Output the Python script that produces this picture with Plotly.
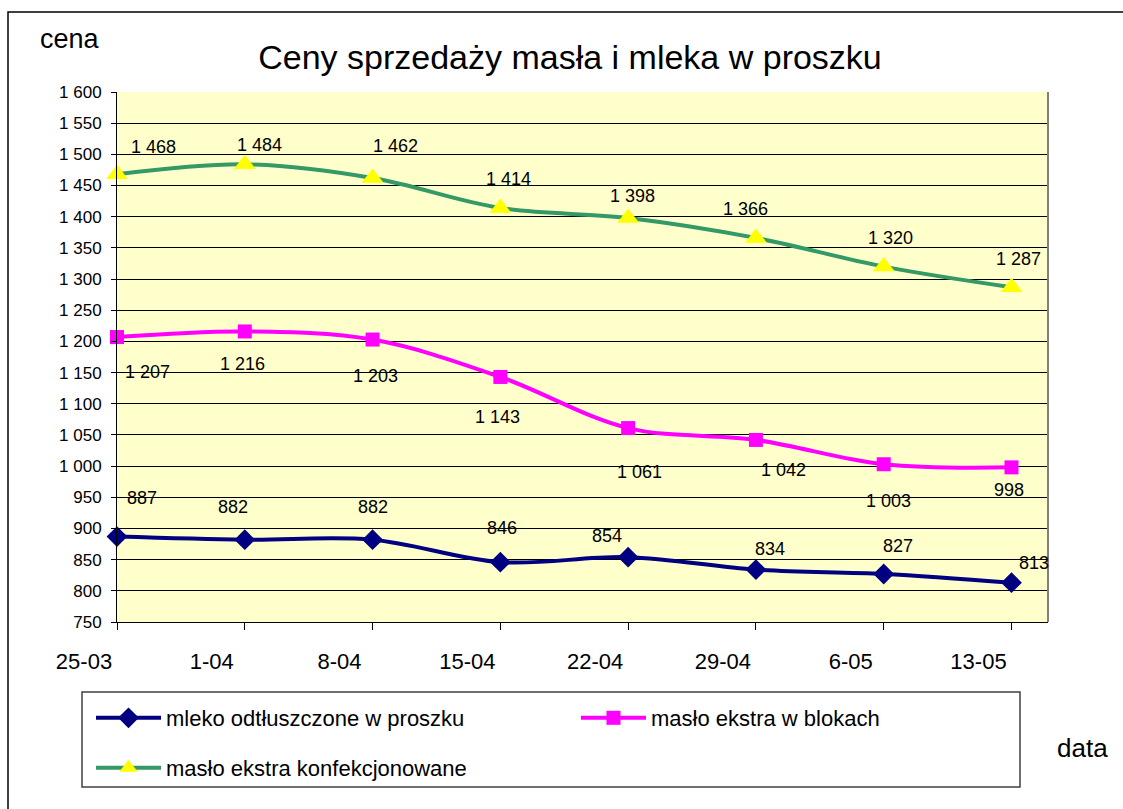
import plotly.graph_objects as go

# ---- data ----
dates = ["25-03", "1-04", "8-04", "15-04", "22-04", "29-04", "6-05", "13-05"]
mleko = [887, 882, 882, 846, 854, 834, 827, 813]
maslo_bloki = [1207, 1216, 1203, 1143, 1061, 1042, 1003, 998]
maslo_konf = [1468, 1484, 1462, 1414, 1398, 1366, 1320, 1287]
names = ["mleko odtłuszczone w proszku", "masło ekstra w blokach", "masło ekstra konfekcjonowane"]
y_ticks = list(range(750, 1601, 50))

# ---- label offsets (px, style) ----
dx_mleko = [25, -12, 0, 2, -21, 14, 14, 23]
dy_mleko = [-39, -33, -33, -34, -21, -21, -28, -20]
dx_bloki = [30, -2, 3, -3, 11, 28, 5, -2]
dy_bloki = [35, 33, 36, 40, 44, 30, 37, 23]
dx_konf = [36, 15, 23, 8, 4, -10, 7, 7]
dy_konf = [-27, -19, -32, -29, -22, -29, -29, -28]

FONT = "Liberation Sans, Arial, sans-serif"
W, H = 1123, 809
L, R, T, B = 117, 1048, 92, 622
PW, PH = R - L, B - T

def px(x):
    return (x - L) / PW

def py(y):
    return (B - y) / PH

xs = list(range(len(dates)))

def fmt(v):
    return f"{v:,}".replace(",", "\u00a0")

fig = go.Figure()
series = [
    (mleko, names[0], "#000080", "diamond", 16, "legend"),
    (maslo_bloki, names[1], "#FF00FF", "square", 14, "legend2"),
    (maslo_konf, names[2], "#339966", "triangle-up", 19, "legend3"),
]
for vals, nm, col, sym, sz, lg in series:
    mcol = "#FFFF00" if sym == "triangle-up" else col
    fig.add_trace(go.Scatter(
        x=xs, y=vals, name=nm, mode="lines+markers",
        line=dict(color=col, width=4, shape="spline", smoothing=1.0),
        marker=dict(symbol=sym, size=sz, color=mcol, line=dict(width=0)),
        cliponaxis=False, legend=lg,
    ))

annotations = []
for vals, dxs, dys in [(mleko, dx_mleko, dy_mleko), (maslo_bloki, dx_bloki, dy_bloki), (maslo_konf, dx_konf, dy_konf)]:
    for i, v in enumerate(vals):
        annotations.append(dict(
            x=xs[i], y=v, xref="x", yref="y", text=fmt(v), showarrow=False,
            xshift=dxs[i], yshift=-dys[i], font=dict(family=FONT, size=18, color="black"),
        ))

annotations.append(dict(x=px(70), y=py(39), xref="paper", yref="paper", text="cena",
                        showarrow=False, font=dict(family=FONT, size=27, color="black"),
                        xanchor="center", yanchor="middle"))
annotations.append(dict(x=px(1082), y=py(748), xref="paper", yref="paper", text="data",
                        showarrow=False, font=dict(family=FONT, size=26, color="black"),
                        xanchor="center", yanchor="middle"))

shapes = [
    # outer chart border
    dict(type="rect", xref="paper", yref="paper", x0=px(8), x1=px(1126), y0=py(812), y1=py(12),
         line=dict(color="black", width=1.5), layer="below"),
    # legend box
    dict(type="rect", xref="paper", yref="paper", x0=px(82), x1=px(1020), y0=py(787), y1=py(692),
         line=dict(color="#404040", width=1.5), fillcolor="white", layer="below"),
    # plot right border
    dict(type="line", xref="paper", yref="paper", x0=1, x1=1, y0=0, y1=1,
         line=dict(color="#808080", width=2)),
]

leg_common = dict(orientation="h", bgcolor="rgba(0,0,0,0)", borderwidth=0,
                  font=dict(family=FONT, size=22, color="black"), itemwidth=65,
                  xanchor="left", yanchor="middle")

fig.update_layout(
    width=W, height=H,
    margin=dict(l=L, r=W - R, t=T, b=H - B),
    paper_bgcolor="white", plot_bgcolor="#FFFFCC",
    separators=", ",
    title=dict(text="Ceny sprzedaży masła i mleka w proszku", x=570 / W, xanchor="center",
               y=1 - 57 / H, yanchor="middle", yref="container",
               font=dict(family=FONT, size=34, color="black")),
    xaxis=dict(range=[0, 7 * 51 / 49], tickvals=xs, ticktext=dates, showgrid=False,
               zeroline=False, showline=True, linecolor="black", linewidth=1,
               ticks="outside", ticklen=7, tickcolor="black", tickwidth=1,
               tickfont=dict(family=FONT, size=22, color="black"),
               ticklabelstandoff=13, ticklabelshift=-33, fixedrange=True),
    yaxis=dict(range=[750, 1600], tickvals=y_ticks, tickformat=",d", showgrid=True,
               gridcolor="black", gridwidth=1, zeroline=False, showline=True,
               linecolor="black", linewidth=1, ticks="outside", ticklen=5,
               tickcolor="black", tickfont=dict(family=FONT, size=17, color="black"),
               ticklabelstandoff=6, fixedrange=True),
    legend=dict(x=px(91), y=py(718), **leg_common),
    legend2=dict(x=px(576), y=py(718), **leg_common),
    legend3=dict(x=px(91), y=py(768), **leg_common),
    annotations=annotations,
    shapes=shapes,
    showlegend=True,
)

fig.write_html("out.html", config={"displayModeBar": False},
               post_script="document.body.style.margin='0';")
